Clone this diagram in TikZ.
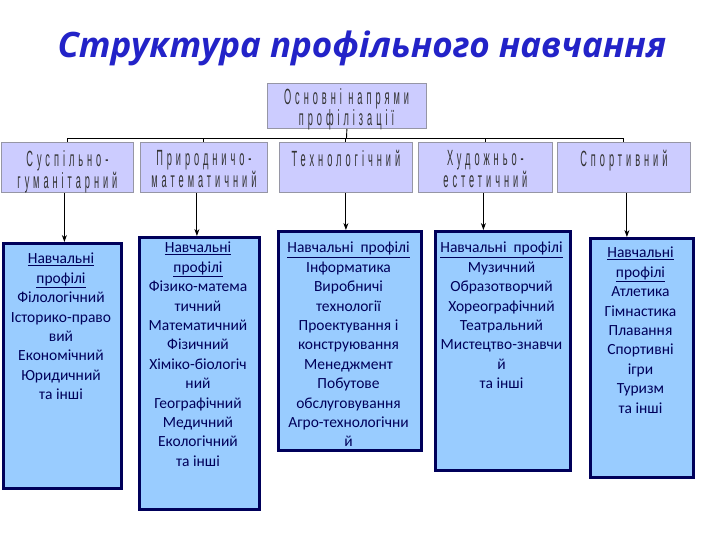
\documentclass[tikz,border=0pt]{standalone}
\usepackage{fontspec}
\setmainfont{Carlito}
\newfontfamily\titlefont{Open Sans}
\newfontfamily\condfont[FakeStretch=0.42,LetterSpace=18]{Liberation Sans}
\usetikzlibrary{arrows.meta}
\definecolor{titleblue}{RGB}{35,35,200}
\definecolor{lav}{RGB}{204,204,255}
\definecolor{lavborder}{RGB}{150,150,165}
\definecolor{pfill}{RGB}{153,204,255}
\definecolor{navy}{RGB}{0,0,90}
\definecolor{condtext}{RGB}{50,50,50}
\tikzset{
  lavbox/.style={draw=lavborder, line width=0.8pt, fill=lav, anchor=north west, inner sep=0pt},
  pbox/.style={draw=navy, line width=2.5pt, fill=pfill, anchor=north west, inner sep=0pt},
  condtxt/.style={anchor=north, inner sep=0pt, align=center, text=condtext,
    font=\condfont\fontsize{22}{17.5}\selectfont},
  ptxt/.style={anchor=north, inner sep=0pt, align=center, text=navy,
    font=\fontsize{15.5}{19.4}\selectfont},
  conn/.style={draw=black, line width=0.9pt},
  arr/.style={conn, -{Stealth[length=7pt,width=5pt]}}
}
\begin{document}
\begin{tikzpicture}[x=1pt,y=-1pt]
\useasboundingbox (0,0) rectangle (720,540);
% title
\node[anchor=base, inner sep=0pt, text=titleblue, font=\titlefont\bfseries\itshape\fontsize{35}{40}\selectfont] (title) at (362,58) {Структура профільного навчання};
% top box
\node[lavbox, minimum width=159pt, minimum height=45pt] (top) at (267,83) {};
\node[condtxt] (toptxt) at (346.5,88) {Основні напрями\\профілізації};
% second row
\node[lavbox, minimum width=132pt, minimum height=50pt] (r1) at (1,142) {};
\node[lavbox, minimum width=127pt, minimum height=50pt] (r2) at (140,142) {};
\node[lavbox, minimum width=133pt, minimum height=50pt] (r3) at (279,142) {};
\node[lavbox, minimum width=134pt, minimum height=50pt] (r4) at (418,142) {};
\node[lavbox, minimum width=133pt, minimum height=50pt] (r5) at (557,142) {};
\node[condtxt] (t1) at (r1.north) [yshift=-8pt] {Суспільно-\\гуманітарний};
\node[condtxt] (t2) at (r2.north) [yshift=-8pt] {Природничо-\\математичний};
\node[condtxt] (t3) at (r3.north) [yshift=-8pt] {Технологічний};
\node[condtxt] (t4) at (r4.north) [yshift=-8pt] {Художньо-\\естетичний};
\node[condtxt] (t5) at (r5.north) [yshift=-8pt] {Спортивний};
% bus
\coordinate (bus) at (346.5,138);
\draw[conn] (top.south) -- (bus);
\draw[conn] (r1.north) |- (bus);
\draw[conn] (r2.north) |- (bus);
\draw[conn] (r3.north) |- (bus);
\draw[conn] (r4.north) |- (bus);
\draw[conn] (r5.north) |- (bus);
% profile boxes
\node[pbox, minimum width=118pt, minimum height=245pt] (pA) at (2,242) {};
\node[pbox, minimum width=120pt, minimum height=272pt] (pB) at (138,236) {};
\node[pbox, minimum width=143pt, minimum height=219pt] (pC) at (277,230) {};
\node[pbox, minimum width=135pt, minimum height=239pt] (pD) at (434,230) {};
\node[pbox, minimum width=103pt, minimum height=239pt] (pE) at (589,237) {};
% arrows
\draw[arr] ([xshift=-3pt]r1.south) -- ([xshift=-3pt]r1.south |- pA.north);
\draw[arr] ([xshift=-7pt]r2.south) -- ([xshift=-7pt]r2.south |- pB.north);
\draw[arr] (r3.south) -- (r3.south |- pC.north);
\draw[arr] ([xshift=-2pt]r4.south) -- ([xshift=-2pt]r4.south |- pD.north);
\draw[arr] ([xshift=3pt]r5.south) -- ([xshift=3pt]r5.south |- pE.north);
% texts
\node[ptxt] (xA) at (61,253) {\underline{Навчальні}\\\underline{профілі}\\Філологічний\\Історико-право\\вий\\Економічний\\Юридичний\\та інші};
\node[ptxt] (xB) at (198,242) {\underline{Навчальні}\\\underline{профілі}\\Фізико-матема\\тичний\\Математичний\\Фізичний\\Хіміко-біологіч\\ний\\Географічний\\Медичний\\Екологічний\\та інші};
\node[ptxt] (xC) at (348.5,242) {\underline{Навчальні\ \ профілі}\\Інформатика\\Виробничі\\технології\\Проектування і\\конструювання\\Менеджмент\\Побутове\\обслуговування\\Агро-технологічни\\й};
\node[ptxt] (xD) at (501.5,242) {\underline{Навчальні\ \ профілі}\\Музичний\\Образотворчий\\Хореографічний\\Театральний\\Мистецтво-знавчи\\й\\та інші};
\node[ptxt] (xE) at (640.5,247) {\underline{Навчальні}\\\underline{профілі}\\Атлетика\\Гімнастика\\Плавання\\Спортивні\\ігри\\Туризм\\та інші};
\end{tikzpicture}
\end{document}
